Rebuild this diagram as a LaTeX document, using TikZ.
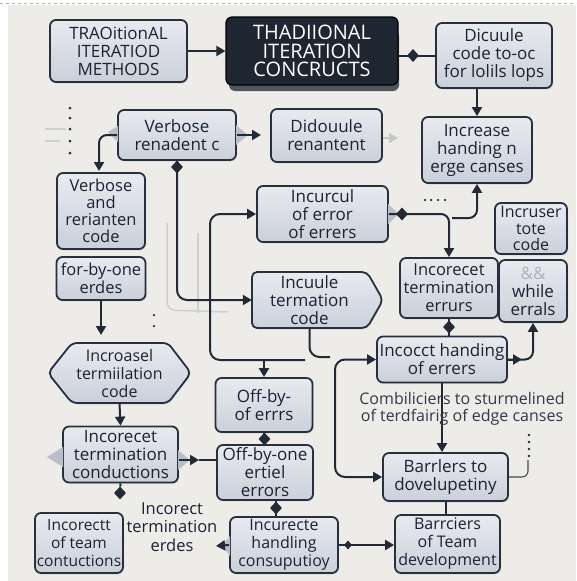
\documentclass[tikz,border=0pt]{standalone}
\usepackage{fontspec}
\setmainfont{Open Sans}
\usetikzlibrary{arrows.meta,shapes.geometric,shadows,calc}
\definecolor{bg}{HTML}{EDECE8}
\definecolor{lc}{HTML}{232A36}
\definecolor{bord}{HTML}{283040}
\definecolor{btop}{HTML}{E8EAEE}
\definecolor{bbot}{HTML}{CBD0D9}
\definecolor{darkfill}{HTML}{1E2631}
\definecolor{shad}{HTML}{50555D}
\definecolor{txt}{HTML}{1B2233}
\definecolor{tabc}{HTML}{B9BEC7}
\definecolor{ghost}{HTML}{CFCFCF}
\newcommand\bxfont{\fontsize{17}{18}\selectfont}
\begin{document}
\begin{tikzpicture}[x=1pt,y=-1pt,
  box/.style={draw=bord, line width=1.8pt, rounded corners=6pt, top color=btop, bottom color=bbot,
    align=center, font=\bxfont, text=txt, inner sep=0pt,
    drop shadow={opacity=0.18,shadow xshift=1pt,shadow yshift=-1.5pt}},
  boxpath/.style={draw=bord, line width=1.8pt, rounded corners=5pt, top color=btop, bottom color=bbot,
    drop shadow={opacity=0.18,shadow xshift=1pt,shadow yshift=-1.5pt}},
  plain/.style={align=center, font=\bxfont, text=txt, inner sep=0pt},
  darkbox/.style={draw=black, line width=1.2pt, fill=darkfill, rounded corners=6pt, align=center,
    text=white, inner sep=0pt, font=\fontsize{20}{18.5}\selectfont},
  ln/.style={draw=lc, line width=2pt},
  arr/.style={ln, -{Triangle[length=9pt,width=10pt]}},
  dia/.style={diamond, fill=lc, inner sep=0pt, minimum width=12pt, minimum height=13pt},
  sdia/.style={diamond, fill=lc, inner sep=0pt, minimum width=8pt, minimum height=9pt},
  dotn/.style={circle, fill=lc, inner sep=0pt, minimum size=3pt},
  thinl/.style={draw=lc!85, line width=1.1pt},
]
\useasboundingbox (0,0) rectangle (576,581);
\fill[white] (0,0) rectangle (576,581);
\fill[bg] (8,5) rectangle (576,581);
\draw[gray!60, dashed, line width=0.6pt] (0,3.5) -- (576,3.5);

% ghost lines
\draw[ghost, line width=1.5pt, rounded corners=8pt] (167,223) -- (167,310) -- (228,312);
\draw[ghost, line width=1.5pt] (198,233) -- (198,313);
\draw[ghost, line width=1.2pt] (45,129) -- (66,129);
\draw[ghost, line width=1.2pt] (45,141) -- (60,141);

% nodes
\node[box, minimum width=137pt, minimum height=62pt] (tradm) at (118.5,51) {TRAOitionAL\\ITERATIOD\\METHODS};
\fill[shad, rounded corners=6pt] (229,30) rectangle (399,91);
\node[darkbox, minimum width=172pt, minimum height=68pt] (trad) at (312,51) {THADIIONAL\\ITERATION\\CONCRUCTS};
\node[box, minimum width=116pt, minimum height=65pt] (dicuule) at (494,55.5) {Dicuule\\code to-oc\\for lolils lops};
\node[box, minimum width=118pt, minimum height=50pt] (verb1) at (177,135) {Verbose\\renadent c};
\node[box, minimum width=111pt, minimum height=53pt] (didou) at (326.5,135.5) {Didouule\\renantent};
\node[box, minimum width=110pt, minimum height=66pt] (incr) at (477,150) {Increase\\handing n\\erge canses};
\node[box, minimum width=88pt, minimum height=76pt, font=\fontsize{16.5}{16.8}\selectfont] (verb2) at (101,211) {Verbose\\and\\rerianten\\code};
\node[box, minimum width=89pt, minimum height=43pt, font=\fontsize{16.5}{18}\selectfont] (forby) at (101,278.5) {for-by-one\\erdes};
\node[box, minimum width=131pt, minimum height=56pt] (incurcul) at (322.5,214) {Incurcul\\of error\\of errers};
\path[boxpath] (252,272) -- (367,272) -- (383,300) -- (367,328) -- (252,328) -- cycle;
\node[plain, minimum width=115pt, minimum height=56pt] (incuule) at (309.5,300) {Incuule\\termation\\code};
\node[box, minimum width=98pt, minimum height=60pt, font=\fontsize{16.5}{18}\selectfont] (incor1) at (449,288) {Incorecet\\termination\\errurs};
\node[box, minimum width=72pt, minimum height=51pt, font=\fontsize{16}{16.5}\selectfont] (incruser) at (531,228.5) {Incruser\\tote\\code};
\node[box, minimum width=68pt, minimum height=62pt] (while) at (533,291) {\textcolor{txt!35}{\&\&}\\while\\errals};
\node[box, minimum width=130pt, minimum height=46pt] (incocct) at (442,359.5) {Incocct handing\\of errers};
\path[boxpath] (48,373) -- (72,343) -- (168,343) -- (191,373) -- (168,403) -- (72,403) -- cycle;
\node[plain, minimum width=143pt, minimum height=60pt, font=\fontsize{16}{18}\selectfont] (hexa) at (119.5,373) {Incroasel\\termiilation\\code};
\node[box, minimum width=97pt, minimum height=54pt] (offby1) at (264,405) {Off-by-\\of errrs};
\node[box, minimum width=115pt, minimum height=56pt] (incor2) at (120.5,454.5) {Incorecet\\termination\\conductions};
\node[box, minimum width=96pt, minimum height=55pt] (offby2) at (265,472.5) {Off-by-one\\ertiel\\errors};
\node[box, minimum width=88pt, minimum height=60pt, font=\fontsize{15.5}{18}\selectfont] (incteam) at (79,543) {Incorectt\\of team\\contuctions};
\node[plain, font=\fontsize{16.5}{18.5}\selectfont] (txtA) at (172,527) {Incorect\\termination\\erdes};
\node[box, minimum width=108pt, minimum height=56pt, font=\fontsize{16}{18}\selectfont] (incurecte) at (284,545) {Incurecte\\handling\\consuputioy};
\node[box, minimum width=125pt, minimum height=48pt] (barr1) at (445.5,477) {Barrlers to\\dovelupetiny};
\node[box, minimum width=105pt, minimum height=58pt, font=\fontsize{16}{18}\selectfont] (barr2) at (447.5,544) {Barrciers\\of Team\\development};

% connectors
\draw[arr] (tradm) -- (trad);
\draw[ln] (trad.east |- dicuule.west) -- (dicuule.west);
\node[dia] (d1) at (413,55.5) {};
\draw[arr] (dicuule.south -| incr.north) -- (incr.north);
\coordinate (c4s) at (452,218);
\draw[arr, rounded corners=8pt] (c4s) -| (incr.south);
\fill[tabc] (236,125) -- (248,135) -- (236,145) -- cycle;
\coordinate (c5e) at (261,135);
\draw[arr] (verb1.east) -- (c5e);
\coordinate (c5f) at (398,138);
\draw[draw=gray!45, line width=1.5pt, -{Triangle[length=9pt,width=10pt]}] (didou.east |- c5f) -- (c5f);
\fill[tabc] (118,126) -- (108,132) -- (118,142) -- cycle;
\coordinate (c6e) at (99,171);
\draw[arr, rounded corners=8pt] (verb1.west) -| (c6e);
\draw[arr, rounded corners=10pt] (verb1.south) |- (incuule.west);
\node[dia] (d7) at (177,167) {};
\coordinate (c8s) at (305,360);
\draw[arr, rounded corners=10pt] (c8s) -- (210,360) |- (incurcul.west);
\draw[arr] (offby1.north |- c8s) -- (offby1.north);
\coordinate (c10e) at (330,357);
\draw[ln, rounded corners=10pt] (incuule.south) |- (c10e);
\coordinate (c11m) at (335,420);
\draw[ln, {Triangle[length=9pt,width=10pt]}-{Triangle[length=9pt,width=10pt]}, rounded corners=10pt]
  (incocct.west) -| (c11m) |- (barr1.west);
\fill[tabc] (388,204) -- (399,214) -- (388,224) -- cycle;
\draw[arr, rounded corners=8pt] (incurcul.east) -| (incor1.north);
\node[dia] (d12) at (402,214) {};
\draw[ln] (incor1.south) -- (incor1.south |- incocct.north);
\node[dia] (d13) at (449,327) {};
\draw[arr, rounded corners=8pt] (incocct.east) -| (while.south);
\coordinate (c14m) at (522,359.5);
\draw[arr] (incocct.east) -- (c14m);
\draw[arr] (incocct.south) -- (incocct.south |- barr1.north);
\node[plain, text=txt!90, font=\fontsize{16}{16.5}\selectfont] (txtB) at (462,409) {Combiliciers to sturmelined\\of terdfairig of edge canses};
\coordinate (c16e) at (528,460);
\draw[thinl, rounded corners=6pt] (barr1.east) -| (c16e);
\foreach \yy [count=\i] in {435,442,449,456} \node[dotn, minimum size=2.8pt] (dr\i) at (529,\yy) {};
\draw[ln] (barr1.south) -- (barr1.south |- barr2.north);
\draw[arr] (incurecte.east) -- (incurecte.east -| barr2.west);
\node[sdia] (d18) at (348,545) {};
\fill[tabc] (230,536) -- (222,546) -- (230,556) -- cycle;
\coordinate (c19e) at (216,546);
\draw[arr] (incurecte.west) -- (c19e);
\node[dia] (d20) at (276,508) {};
\draw[ln] (d20 |- offby2.south) -- (d20 |- incurecte.north);
\draw[ln] (offby1.south) -- (offby1.south |- offby2.north);
\node[dia] (d21) at (264.5,439) {};
\coordinate (c22m) at (199,460);
\fill[tabc] (178,450) -- (190,460) -- (178,470) -- cycle;
\draw[arr] (incor2.east |- c22m) -- (c22m);
\draw[ln] (c22m) -- (c22m -| offby2.west);
\fill[tabc] (47,457) -- (63,447) -- (63,467) -- cycle;
\node[dia] (d24) at (120,493) {};
\draw[ln] (incor2.south) -- (d24);
\draw[arr] (hexa.south) -- (incor2.north);
\coordinate (c26e) at (101,335);
\draw[arr] (forby.south) -- (c26e);

% dots
\foreach \yy [count=\i] in {108,118,129,141,153} \node[dotn] (dl\i) at (70,\yy) {};
\foreach \yy [count=\i] in {315,326} \node[dotn, minimum size=2.5pt] (dm\i) at (154,\yy) {};
\foreach \xx [count=\i] in {425,431,438,445} \node[dotn, minimum size=2.5pt] (dt\i) at (\xx,200) {};
\end{tikzpicture}
\end{document}
